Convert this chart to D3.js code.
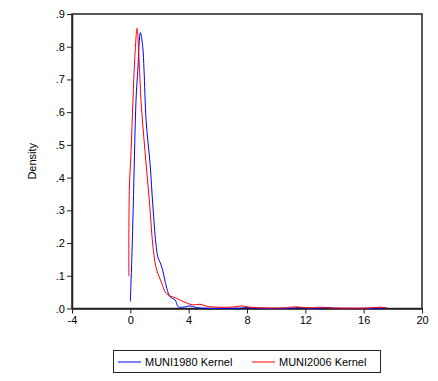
<!DOCTYPE html>
<html>
<head>
<meta charset="utf-8">
<script src="https://cdn.jsdelivr.net/npm/d3@7"></script>
<style>
  html, body { margin: 0; padding: 0; background: #fff; }
  svg { display: block; font-family: "Liberation Sans", Arial, sans-serif; }
</style>
</head>
<body>
<svg id="chart" width="438" height="381"></svg>
<script>
// Kernel density estimates of MUNI1980 and MUNI2006
const muni1980X = [0, 0.1, 0.21, 0.39, 0.51, 0.69, 0.85, 0.94, 1.08, 1.35, 1.55, 1.75, 1.9, 2.05, 2.2, 2.35, 2.5, 2.72, 3.07, 3.29, 3.6, 4.09, 4.44, 5.0, 7.5, 8.0, 8.5, 11.2, 11.5, 12.0, 13.2, 13.5, 14.0, 17.3, 17.6];
const muni1980Y = [0.021, 0.15, 0.331, 0.636, 0.728, 0.843, 0.8, 0.728, 0.575, 0.443, 0.31, 0.2, 0.155, 0.14, 0.12, 0.09, 0.062, 0.036, 0.026, 0.005, 0.004, 0.008, 0.004, 0.001, 0.001, 0.003, 0.001, 0.001, 0.003, 0.001, 0.001, 0.003, 0.001, 0.001, 0.002];

const muni2006X = [-0.1, -0.07, 0.05, 0.18, 0.3, 0.46, 0.6, 0.73, 1.0, 1.3, 1.58, 1.81, 2.15, 2.38, 2.61, 3.18, 3.63, 4.32, 4.78, 5.33, 6.0, 6.84, 7.3, 7.64, 8.0, 9.0, 10.5, 11.0, 11.4, 11.8, 12.5, 13.0, 13.5, 14.5, 16.0, 16.8, 17.2, 17.6];
const muni2006Y = [0.099, 0.36, 0.48, 0.636, 0.76, 0.856, 0.76, 0.636, 0.483, 0.331, 0.178, 0.117, 0.078, 0.051, 0.041, 0.031, 0.021, 0.011, 0.013, 0.006, 0.004, 0.004, 0.006, 0.008, 0.005, 0.002, 0.002, 0.004, 0.005, 0.003, 0.002, 0.004, 0.002, 0.001, 0.001, 0.003, 0.004, 0.001];

const xTicks = [-4, 0, 4, 8, 12, 16, 20];
const xTickLabels = ["-4", "0", "4", "8", "12", "16", "20"];
const yTicks = [0, 0.1, 0.2, 0.3, 0.4, 0.5, 0.6, 0.7, 0.8, 0.9];
const yTickLabels = [".0", ".1", ".2", ".3", ".4", ".5", ".6", ".7", ".8", ".9"];

const seriesNames = ["MUNI1980 Kernel", "MUNI2006 Kernel"];
const seriesColors = ["#0000ff", "#ff0000"];

const svg = d3.select("#chart");
const plot = { left: 72, right: 422, top: 14, bottom: 308.5 };

const x = d3.scaleLinear().domain([-4, 20]).range([plot.left, plot.right]);
const y = d3.scaleLinear().domain([0, 0.9]).range([plot.bottom, plot.top]);

// frame
svg.append("rect")
  .attr("x", plot.left).attr("y", plot.top)
  .attr("width", plot.right - plot.left).attr("height", plot.bottom - plot.top)
  .attr("fill", "none").attr("stroke", "#222").attr("stroke-width", 1.5);

// axes
const xAxis = svg.append("g")
  .attr("transform", `translate(0,${plot.bottom})`)
  .call(d3.axisBottom(x).tickValues(xTicks).tickFormat((d, i) => xTickLabels[i]).tickSize(5).tickSizeOuter(0));
const yAxis = svg.append("g")
  .attr("transform", `translate(${plot.left},0)`)
  .call(d3.axisLeft(y).tickValues(yTicks).tickFormat((d, i) => yTickLabels[i]).tickSize(5).tickSizeOuter(0));

[xAxis, yAxis].forEach(g => {
  g.select(".domain").attr("stroke", "#222").attr("stroke-width", 1.5);
  g.selectAll(".tick line").attr("stroke", "#222");
  g.selectAll(".tick text").attr("fill", "#000").attr("font-size", 11)
    .attr("font-family", "Liberation Sans, Arial, sans-serif");
});
yAxis.selectAll(".tick text").attr("x", -7);
xAxis.selectAll(".tick text").attr("y", 8);

// y title
svg.append("text")
  .attr("transform", `translate(36,${(plot.top + plot.bottom) / 2}) rotate(-90)`)
  .attr("text-anchor", "middle")
  .attr("font-size", 11)
  .text("Density");

// density curves
const line = d3.line().x(d => x(d[0])).y(d => y(d[1])).curve(d3.curveCatmullRom.alpha(0.5));
const series = [
  d3.zip(muni1980X, muni1980Y),
  d3.zip(muni2006X, muni2006Y)
];
series.forEach((pts, i) => {
  svg.append("path")
    .datum(pts)
    .attr("d", line)
    .attr("fill", "none")
    .attr("stroke", seriesColors[i])
    .attr("stroke-width", 1);
});

// legend
const legend = svg.append("g");
legend.append("rect")
  .attr("x", 113.5).attr("y", 350.5).attr("width", 267).attr("height", 22)
  .attr("fill", "#fff").attr("stroke", "#222").attr("stroke-width", 1);
const legendItems = [{ lx: 118, tx: 145 }, { lx: 252, tx: 279 }];
legendItems.forEach((it, i) => {
  legend.append("line")
    .attr("x1", it.lx).attr("x2", it.lx + 23)
    .attr("y1", 362).attr("y2", 362)
    .attr("stroke", seriesColors[i]).attr("stroke-width", 1);
  legend.append("text")
    .attr("x", it.tx).attr("y", 366)
    .attr("font-size", 11)
    .text(seriesNames[i]);
});
</script>
</body>
</html>
